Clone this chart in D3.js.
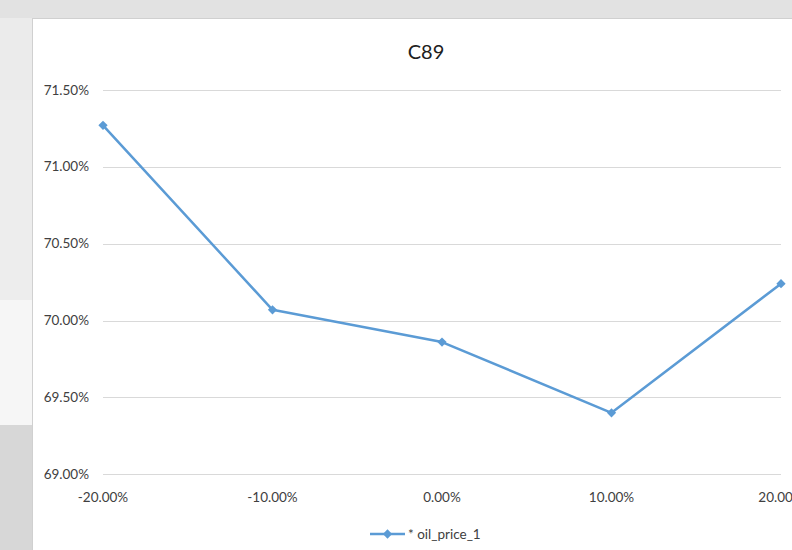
<!DOCTYPE html>
<html>
<head>
<meta charset="utf-8">
<script src="https://cdn.jsdelivr.net/npm/d3@7"></script>
<style>
  html, body { margin: 0; padding: 0; background: #e9e9e9; }
  svg { display: block; font-family: Lato, "Open Sans", sans-serif; }
</style>
</head>
<body>
<svg id="chart" width="792" height="550"></svg>
<script>
// Sensitivity of C89 to oil price shocks
const categories = ["-20.00%", "-10.00%", "0.00%", "10.00%", "20.00%"];
const values = [0.7127, 0.7007, 0.6986, 0.6940, 0.7024];
const yTicks = [0.69, 0.695, 0.70, 0.705, 0.71, 0.715];
const seriesName = "* oil_price_1";
const title = "C89";

const svg = d3.select("#chart");
const W = 792, H = 550;

// backdrop behind the chart panel
const bg = svg.append("g");
bg.append("rect").attr("width", W).attr("height", H).attr("fill", "#ebebeb");
bg.append("rect").attr("x", 0).attr("y", 0).attr("width", W).attr("height", 18).attr("fill", "#e2e2e2");
bg.append("rect").attr("x", 0).attr("y", 100).attr("width", 32).attr("height", 200).attr("fill", "#ededed");
bg.append("rect").attr("x", 0).attr("y", 300).attr("width", 32).attr("height", 125).attr("fill", "#f6f6f6");
bg.append("rect").attr("x", 0).attr("y", 425).attr("width", 32).attr("height", 125).attr("fill", "#d7d7d7");

// chart panel
svg.append("rect")
  .attr("x", 32.5).attr("y", 18.5)
  .attr("width", 800).attr("height", 560)
  .attr("fill", "#ffffff").attr("stroke", "#d0d0d0");

const x = d3.scalePoint().domain(categories).range([103, 781]).padding(0);
const y = d3.scaleLinear().domain([0.69, 0.715]).range([474.3, 90]);

// horizontal gridlines
svg.append("g").selectAll("line").data(yTicks).join("line")
  .attr("x1", 103).attr("x2", 781)
  .attr("y1", d => Math.round(y(d)) + 0.5).attr("y2", d => Math.round(y(d)) + 0.5)
  .attr("stroke", "#d9d9d9").attr("stroke-width", 1);

// y axis labels
const fmt = d3.format(".2%");
svg.append("g").selectAll("text").data(yTicks).join("text")
  .attr("x", 89).attr("y", d => y(d) + 4.5)
  .attr("text-anchor", "end")
  .attr("font-size", 13.5).attr("fill", "#404040")
  .text(d => fmt(d));

// x axis labels
svg.append("g").selectAll("text").data(categories).join("text")
  .attr("x", d => x(d)).attr("y", 502)
  .attr("text-anchor", "middle")
  .attr("font-size", 13.5).attr("fill", "#404040")
  .text(d => d);

// title
svg.append("text")
  .attr("x", 426).attr("y", 59)
  .attr("text-anchor", "middle")
  .attr("font-size", 20).attr("fill", "#202020")
  .text(title);

// series line
const color = "#5b9bd5";
const line = d3.line().x((d, i) => x(categories[i])).y(d => y(d));
svg.append("path")
  .datum(values)
  .attr("d", line)
  .attr("fill", "none")
  .attr("stroke", color)
  .attr("stroke-width", 2.5)
  .attr("stroke-linejoin", "round");

const diamond = d3.symbol().type(d3.symbolDiamond2).size(55);
svg.append("g").selectAll("path").data(values).join("path")
  .attr("transform", (d, i) => `translate(${x(categories[i])},${y(d)})`)
  .attr("d", diamond)
  .attr("fill", color);

// legend
const lg = svg.append("g").attr("transform", "translate(370,534)");
lg.append("line").attr("x1", 0).attr("x2", 35).attr("y1", 0).attr("y2", 0)
  .attr("stroke", color).attr("stroke-width", 2.5);
lg.append("path").attr("transform", "translate(17.5,0)").attr("d", diamond).attr("fill", color);
lg.append("text").attr("x", 38).attr("y", 5)
  .attr("font-size", 13.5).attr("fill", "#404040")
  .text(seriesName);
</script>
</body>
</html>
